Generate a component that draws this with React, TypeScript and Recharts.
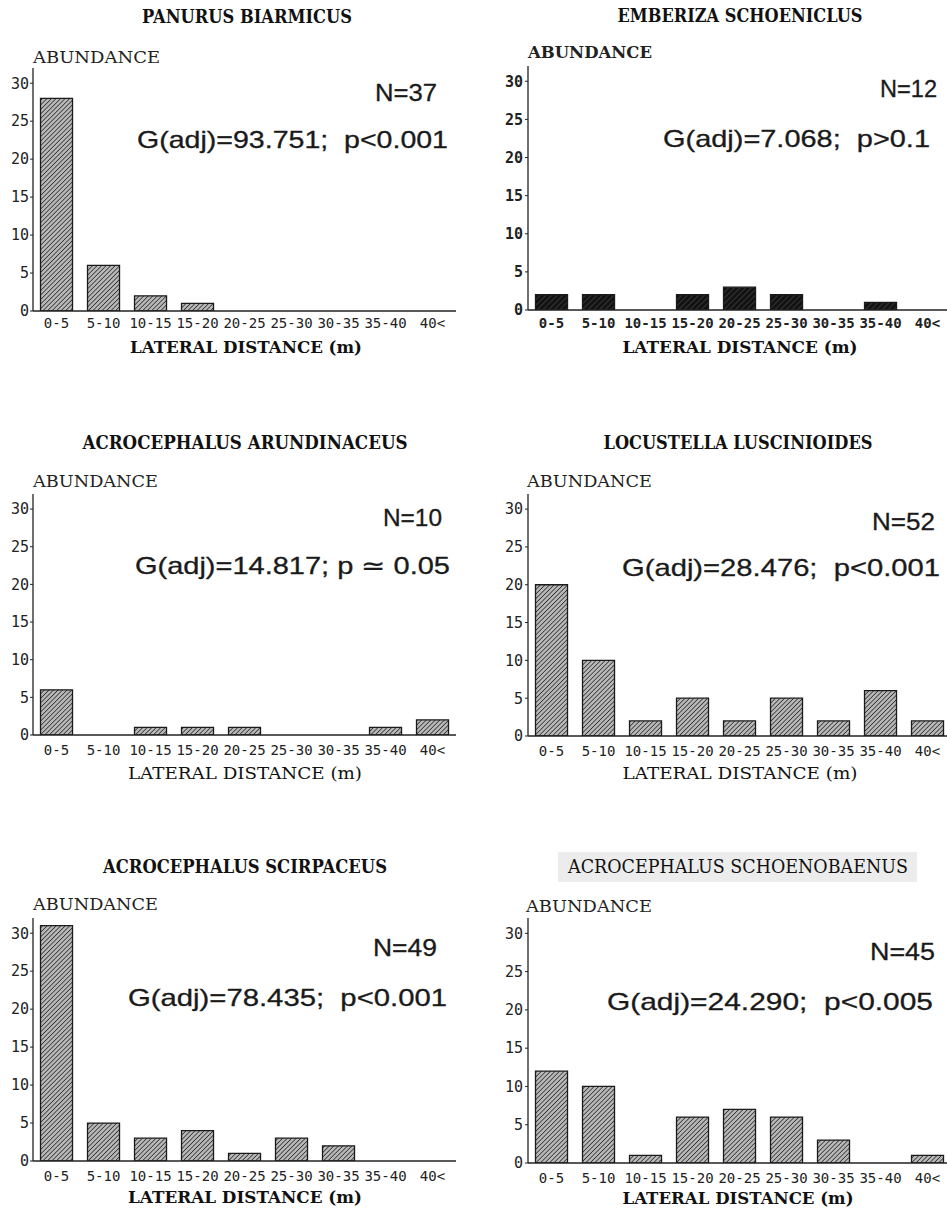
import React from 'react';
import { BarChart, Bar, XAxis, YAxis } from 'recharts';

// ---------- data ----------
const categories = ['0-5', '5-10', '10-15', '15-20', '20-25', '25-30', '30-35', '35-40', '40<'];
const yTicks = [0, 5, 10, 15, 20, 25, 30];

const panurusValues = [28, 6, 2, 1, 0, 0, 0, 0, 0];
const emberizaValues = [2, 2, 0, 2, 3, 2, 0, 1, 0];
const arundinaceusValues = [6, 0, 1, 1, 1, 0, 0, 1, 2];
const locustellaValues = [20, 10, 2, 5, 2, 5, 2, 6, 2];
const scirpaceusValues = [31, 5, 3, 4, 1, 3, 2, 0, 0];
const schoenobaenusValues = [12, 10, 1, 6, 7, 6, 3, 0, 1];

const speciesNames = [
  'PANURUS BIARMICUS',
  'EMBERIZA SCHOENICLUS',
  'ACROCEPHALUS ARUNDINACEUS',
  'LOCUSTELLA LUSCINIOIDES',
  'ACROCEPHALUS SCIRPACEUS',
  'ACROCEPHALUS SCHOENOBAENUS',
];
const nLabels = ['N=37', 'N=12', 'N=10', 'N=52', 'N=49', 'N=45'];
const gLabels = [
  'G(adj)=93.751;  p<0.001',
  'G(adj)=7.068;  p>0.1',
  'G(adj)=14.817; p \u2243 0.05',
  'G(adj)=28.476;  p<0.001',
  'G(adj)=78.435;  p<0.001',
  'G(adj)=24.290;  p<0.005',
];
const yAxisTitle = 'ABUNDANCE';
const xAxisTitle = 'LATERAL DISTANCE (m)';

const seriesList = [
  panurusValues,
  emberizaValues,
  arundinaceusValues,
  locustellaValues,
  scirpaceusValues,
  schoenobaenusValues,
];

// ---------- layout ----------
type Layout = {
  axisX: number; top: number; zero: number; tickMargin: number; yTickGap: number;
  bold: boolean; dark: boolean;
  title: { cx: number; y: number; w: number; bold: boolean };
  abund: { x: number; y: number; w: number; bold: boolean };
  xt: { cx: number; y: number; w: number; bold: boolean };
  n: { right: number; y: number; w: number };
  g: { right: number; y: number; w: number };
};

const layouts: Layout[] = [
  {
    axisX: 33, top: 68, zero: 311, tickMargin: 7, yTickGap: 1, bold: false, dark: false,
    title: { cx: 247, y: 23, w: 210, bold: true },
    abund: { x: 33, y: 63, w: 127, bold: false },
    xt: { cx: 246, y: 353, w: 232, bold: true },
    n: { right: 437, y: 101, w: 62 },
    g: { right: 448, y: 148, w: 311 },
  },
  {
    axisX: 528, top: 66, zero: 310, tickMargin: 8, yTickGap: 2, bold: true, dark: true,
    title: { cx: 740, y: 22, w: 245, bold: true },
    abund: { x: 528, y: 58, w: 124, bold: true },
    xt: { cx: 740, y: 353, w: 235, bold: true },
    n: { right: 937, y: 97, w: 57 },
    g: { right: 930, y: 147, w: 267 },
  },
  {
    axisX: 33, top: 494, zero: 735, tickMargin: 10, yTickGap: 1, bold: false, dark: false,
    title: { cx: 245, y: 449, w: 325, bold: true },
    abund: { x: 33, y: 487, w: 125, bold: false },
    xt: { cx: 245, y: 779, w: 234, bold: false },
    n: { right: 442, y: 526, w: 59 },
    g: { right: 450, y: 574, w: 315 },
  },
  {
    axisX: 528, top: 494, zero: 736, tickMargin: 10, yTickGap: 2, bold: false, dark: false,
    title: { cx: 738, y: 449, w: 269, bold: true },
    abund: { x: 527, y: 487, w: 125, bold: false },
    xt: { cx: 740, y: 779, w: 235, bold: false },
    n: { right: 935, y: 530, w: 63 },
    g: { right: 940, y: 576, w: 318 },
  },
  {
    axisX: 33, top: 918, zero: 1161, tickMargin: 10, yTickGap: 1, bold: false, dark: false,
    title: { cx: 245, y: 873, w: 284, bold: true },
    abund: { x: 33, y: 910, w: 125, bold: false },
    xt: { cx: 245, y: 1203, w: 234, bold: true },
    n: { right: 437, y: 956, w: 64 },
    g: { right: 447, y: 1006, w: 319 },
  },
  {
    axisX: 528, top: 918, zero: 1163, tickMargin: 10, yTickGap: 2, bold: false, dark: false,
    title: { cx: 738, y: 873, w: 340, bold: false },
    abund: { x: 526, y: 912, w: 126, bold: false },
    xt: { cx: 738, y: 1204, w: 231, bold: true },
    n: { right: 935, y: 960, w: 65 },
    g: { right: 933, y: 1010, w: 326 },
  },
];

const PLOT_W = 423;
const Y_AXIS_W = 40;
const X_AXIS_H = 30;
const M_TOP = 2;
const M_RIGHT = 2;

function Panel({ idx }: { idx: number }) {
  const L = layouts[idx];
  const values = seriesList[idx];
  const data = categories.map((c, i) => ({ cat: c, v: values[i] }));
  const plotH = L.zero - L.top;
  const width = Y_AXIS_W + PLOT_W + M_RIGHT;
  const height = M_TOP + plotH + X_AXIS_H;
  const pid = `hatch-${idx}`;
  const tickFont = {
    fontFamily: '"DejaVu Sans Mono", monospace',
    fill: '#222',
    fontWeight: L.bold ? 700 : 400,
  };
  return (
    <div style={{ position: 'absolute', left: L.axisX - Y_AXIS_W, top: L.top - M_TOP }}>
      <BarChart
        width={width}
        height={height}
        data={data}
        margin={{ top: M_TOP, right: M_RIGHT, left: 0, bottom: 0 }}
        barCategoryGap="16%"
      >
        <defs>
          {L.dark ? (
            <pattern id={pid} width="4" height="4" patternUnits="userSpaceOnUse" patternTransform="rotate(45)">
              <rect width="4" height="4" fill="#121212" />
              <line x1="0" y1="0" x2="0" y2="4" stroke="#6a6a6a" strokeWidth="0.8" />
            </pattern>
          ) : (
            <pattern id={pid} width="3.2" height="3.2" patternUnits="userSpaceOnUse" patternTransform="rotate(45)">
              <rect width="3.2" height="3.2" fill="#b8b8b8" />
              <line x1="0" y1="0" x2="0" y2="3.2" stroke="#2a2a2a" strokeWidth="1.5" />
            </pattern>
          )}
        </defs>
        <XAxis
          dataKey="cat"
          interval={0}
          height={X_AXIS_H}
          tickLine={false}
          tickSize={0}
          tickMargin={L.tickMargin}
          axisLine={{ stroke: '#222', strokeWidth: 1.3 }}
          tick={{ ...tickFont, fontSize: 14 }}
        />
        <XAxis
          xAxisId="top"
          orientation="top"
          dataKey="cat"
          height={0}
          tick={false}
          tickLine={false}
          axisLine={{ stroke: '#555', strokeWidth: 1.1 }}
        />
        <YAxis
          type="number"
          domain={[0, 32]}
          ticks={yTicks}
          interval={0}
          width={Y_AXIS_W}
          tickSize={3}
          tickMargin={L.yTickGap}
          allowDataOverflow
          axisLine={{ stroke: '#222', strokeWidth: 1.3 }}
          tickLine={{ stroke: '#222' }}
          tick={{ ...tickFont, fontSize: 15 }}
        />
        <YAxis
          yAxisId="r"
          orientation="right"
          type="number"
          domain={[0, 32]}
          width={0}
          tick={false}
          tickLine={false}
          axisLine={{ stroke: '#555', strokeWidth: 1.1 }}
        />
        <Bar
          dataKey="v"
          fill={`url(#${pid})`}
          stroke="#1a1a1a"
          strokeWidth={1.3}
          isAnimationActive={false}
        />
      </BarChart>
    </div>
  );
}

function Annotations() {
  const serif = '"DejaVu Serif", serif';
  const sans = '"Liberation Sans", Arial, sans-serif';
  return (
    <svg
      width={947}
      height={1209}
      style={{ position: 'absolute', left: 0, top: 0, pointerEvents: 'none' }}
    >
      <rect x={558} y={852} width={359} height={30} fill="#ececec" />
      {layouts.map((L, i) => (
        <g key={i}>
          <text
            x={L.title.cx}
            y={L.title.y}
            textAnchor="middle"
            fontFamily={serif}
            fontWeight={L.title.bold ? 700 : 400}
            fontSize={18}
            fill="#111"
            textLength={L.title.w}
            lengthAdjust="spacingAndGlyphs"
          >
            {speciesNames[i]}
          </text>
          <text
            x={L.abund.x}
            y={L.abund.y}
            textAnchor="start"
            fontFamily={serif}
            fontWeight={L.abund.bold ? 700 : 400}
            fontSize={17}
            fill="#222"
            textLength={L.abund.w}
            lengthAdjust="spacingAndGlyphs"
          >
            {yAxisTitle}
          </text>
          <text
            x={L.xt.cx}
            y={L.xt.y}
            textAnchor="middle"
            fontFamily={serif}
            fontWeight={L.xt.bold ? 700 : 400}
            fontSize={17}
            fill="#111"
            textLength={L.xt.w}
            lengthAdjust="spacingAndGlyphs"
          >
            {xAxisTitle}
          </text>
          <text
            x={L.n.right}
            y={L.n.y}
            textAnchor="end"
            fontFamily={sans}
            fontSize={24}
            fill="#1a1a1a"
            stroke="#1a1a1a"
            strokeWidth={0.3}
            textLength={L.n.w}
            lengthAdjust="spacingAndGlyphs"
          >
            {nLabels[i]}
          </text>
          <text
            x={L.g.right}
            y={L.g.y}
            textAnchor="end"
            fontFamily={sans}
            fontSize={24}
            fill="#1a1a1a"
            stroke="#1a1a1a"
            strokeWidth={0.3}
            textLength={L.g.w}
            lengthAdjust="spacingAndGlyphs"
            style={{ whiteSpace: 'pre' }}
          >
            {gLabels[i]}
          </text>
        </g>
      ))}
    </svg>
  );
}

export default function App() {
  return (
    <div
      style={{
        position: 'absolute',
        left: 0,
        top: 0,
        width: 947,
        height: 1209,
        overflow: 'hidden',
        background: '#fff',
      }}
    >
      {layouts.map((_, i) => (
        <Panel key={i} idx={i} />
      ))}
      <Annotations />
    </div>
  );
}
